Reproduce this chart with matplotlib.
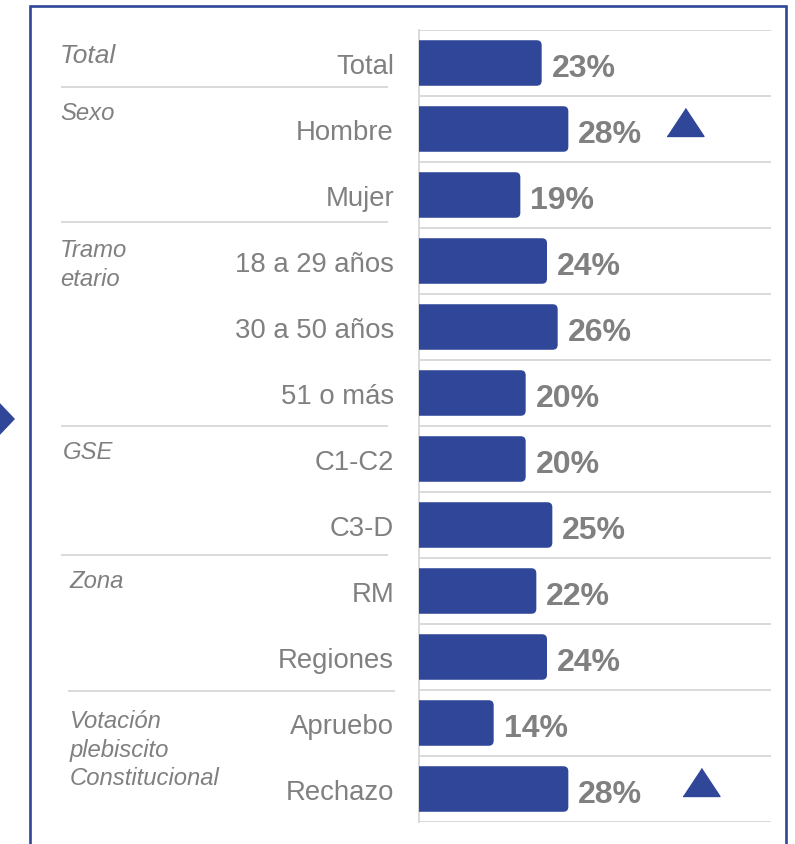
import matplotlib
matplotlib.use('Agg')
import matplotlib.pyplot as plt
from matplotlib.patches import FancyBboxPatch, Polygon
from matplotlib.lines import Line2D

# ---------------- data ----------------
categories = ['Total', 'Hombre', 'Mujer', '18 a 29 años', '30 a 50 años', '51 o más',
              'C1-C2', 'C3-D', 'RM', 'Regiones', 'Apruebo', 'Rechazo']
values = [23, 28, 19, 24, 26, 20, 20, 25, 22, 24, 14, 28]
value_labels = [f'{v}%' for v in values]
groups = ['Total', 'Sexo', 'Tramo\netario', 'GSE', 'Zona',
          'Votación\nplebiscito\nConstitucional']
significant_up = ['Hombre', 'Rechazo']

# ---------------- style ----------------
W, H = 795, 845
BLUE = '#2F4699'
GRAY_TXT = '#808080'
GRID = '#D9D9D9'
FONT = 'Liberation Sans'
plt.rcParams['font.family'] = [FONT, 'DejaVu Sans']

def fx(px):
    return px / W

def fy(py):
    return 1 - py / H

fig = plt.figure(figsize=(W / 100, H / 100), dpi=100)
ax_left, ax_right, ax_top, ax_bottom = 419, 771, 31, 823
ax = fig.add_axes([fx(ax_left), fy(ax_bottom), fx(ax_right) - fx(ax_left),
                   (ax_bottom - ax_top) / H])
XMAX = 66.0
n = len(categories)
ax.set_xlim(0, XMAX)
ax.set_ylim(n - 0.5, -0.5)
px_per_unit = (ax_right - ax_left) / XMAX
row_px = (ax_bottom - ax_top) / n

for s in ['top', 'right', 'bottom']:
    ax.spines[s].set_visible(False)
ax.spines['left'].set_color(GRID)
ax.spines['left'].set_linewidth(1.4)
ax.set_xticks([])
ax.set_yticks([])

# row gridlines
for b in range(n + 1):
    ax.axhline(b - 0.5, color=GRID, lw=1.4, zorder=1)

# bars (rounded right corners)
bar_h = 0.69
rs_x = 5 / px_per_unit
aspect = (1 / row_px) / (1 / px_per_unit)
for i, v in enumerate(values):
    p = FancyBboxPatch((-2, i - bar_h / 2), v + 2, bar_h,
                       boxstyle=f'round,pad=0,rounding_size={rs_x}',
                       mutation_aspect=aspect, facecolor=BLUE, edgecolor='none',
                       zorder=3, clip_on=True)
    ax.add_patch(p)
    ax.text(v + 10 / px_per_unit, i + 12.7 / row_px, value_labels[i],
            ha='left', va='baseline', fontsize=23, fontweight='bold',
            color=GRAY_TXT, zorder=4)

# category labels
for i, c in enumerate(categories):
    py = ax_top + (i + 0.5) * row_px + 10
    fig.text(fx(394), fy(py), c, ha='right', va='baseline', fontsize=19.8,
             color=GRAY_TXT)

# significance triangles
tri = [(-1, -0.757), (1, -0.757), (0, 0.757)]
tri_x_px = {'Hombre': 685, 'Rechazo': 701}
for c in significant_up:
    i = categories.index(c)
    x = (tri_x_px[c] - ax_left) / px_per_unit
    ax.plot([x], [i - 7 / row_px], ls='', marker=tri, ms=26.6, color=BLUE,
            zorder=5, clip_on=False)

# group labels
group_pos = [(60, 63), (60, 120), (60, 257), (63, 459), (69, 588), (70, 728)]
group_size = [19, 17.2, 17.2, 17.2, 17.2, 17.2]
for g, (gx, gy), fs in zip(groups, group_pos, group_size):
    for k, line in enumerate(g.split('\n')):
        fig.text(fx(gx), fy(gy + k * 28.7), line, ha='left', va='baseline',
                 fontsize=fs, style='italic', color=GRAY_TXT)

# group separators
separators = [(88, 62, 387), (223, 62, 387), (427, 62, 387), (556, 62, 387),
              (692, 69, 394)]
for sy, x0, x1 in separators:
    fig.add_artist(Line2D([fx(x0), fx(x1)], [fy(sy), fy(sy)], color=GRID, lw=1.4))

# frame
fig.add_artist(Line2D([fx(29.5), fx(29.5), fx(786), fx(786)],
                      [fy(H + 10), fy(7), fy(7), fy(H + 10)],
                      color=BLUE, lw=1.9, solid_joinstyle='miter'))

# arrow at left edge
fig.add_artist(Polygon([(fx(-3), fy(401)), (fx(15), fy(420)), (fx(-3), fy(439))],
                       closed=True, facecolor=BLUE, edgecolor='none',
                       transform=fig.transFigure))

fig.savefig('out.png', dpi=100)
